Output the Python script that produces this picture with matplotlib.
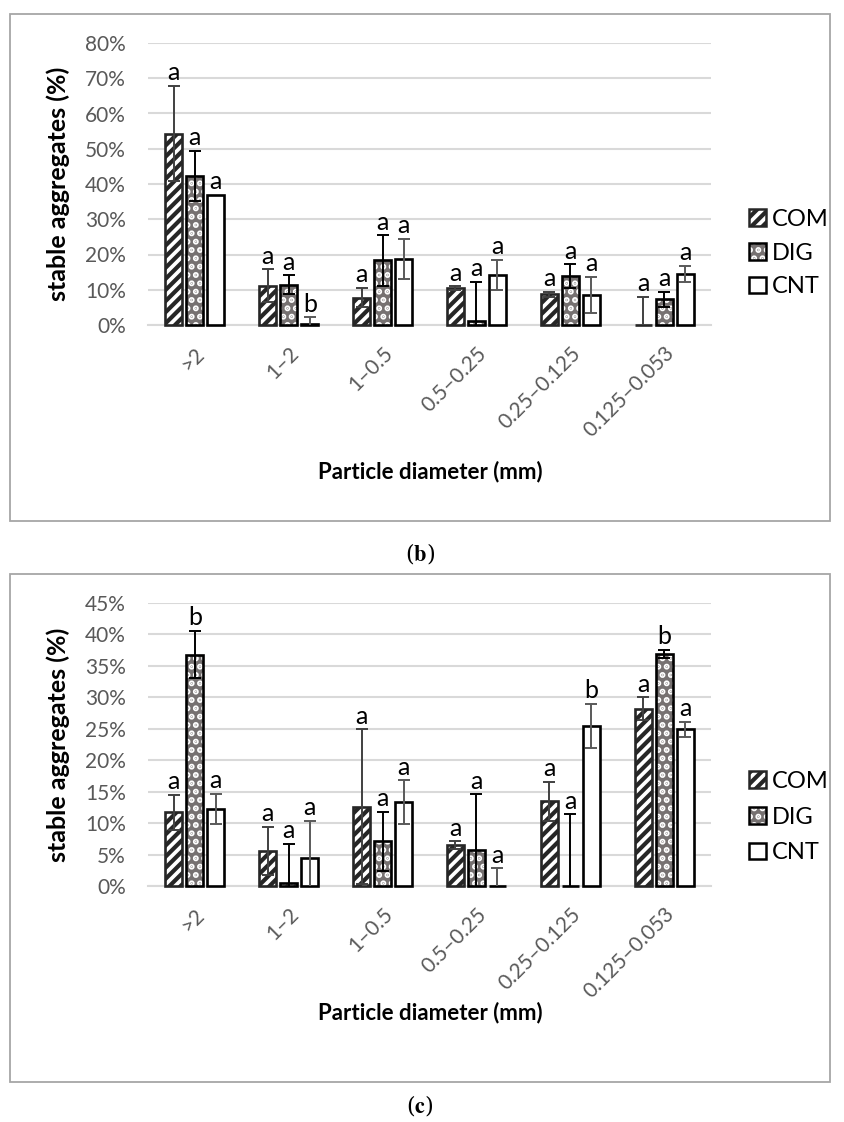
import matplotlib
matplotlib.use("Agg")
import matplotlib.pyplot as plt
from matplotlib.patches import Patch, Rectangle
from matplotlib.legend_handler import HandlerTuple
import numpy as np

plt.rcParams['font.family'] = ['Lato', 'DejaVu Sans']
plt.rcParams['hatch.linewidth'] = 3.0
plt.rcParams['mathtext.fontset'] = 'stix'

categories = [">2", "1\u20132", "1\u20130.5", "0.5\u20130.25", "0.25\u20130.125", "0.125\u20130.053"]
series = ["COM", "DIG", "CNT"]

# Panel (b)
b_COM = [54.3, 11.2, 7.8, 10.4, 8.7, 0.0]
b_DIG = [42.4, 11.4, 18.3, 1.1, 13.9, 7.3]
b_CNT = [37.0, 0.4, 18.7, 14.2, 8.5, 14.5]
b_COM_err = [13.5, 4.6, 2.8, 0.6, 0.8, 8.0]
b_DIG_err = [7.1, 2.7, 7.2, 11.2, 3.3, 2.2]
b_CNT_err = [0.0, 1.8, 5.7, 4.3, 5.2, 2.3]
b_COM_let = ["a", "a", "a", "a", "a", "a"]
b_DIG_let = ["a", "a", "a", "a", "a", "a"]
b_CNT_let = ["a", "b", "a", "a", "a", "a"]

# Panel (c)
c_COM = [11.7, 5.6, 12.6, 6.5, 13.5, 28.2]
c_DIG = [36.8, 0.4, 7.1, 5.7, 0.0, 36.9]
c_CNT = [12.3, 4.5, 13.3, 0.0, 25.5, 24.9]
c_COM_err = [2.8, 3.8, 12.3, 0.6, 3.1, 1.8]
c_DIG_err = [3.8, 6.3, 4.7, 8.9, 11.4, 0.7]
c_CNT_err = [2.4, 5.9, 3.5, 2.8, 3.5, 1.2]
c_COM_let = ["a", "a", "a", "a", "a", "a"]
c_DIG_let = ["b", "a", "a", "a", "a", "b"]
c_CNT_let = ["a", "a", "a", "a", "b", "a"]

W, H = 844, 1122
fig = plt.figure(figsize=(W / 100, H / 100), dpi=100)

GRAY_TXT = "#595959"
GRID = "#d9d9d9"
DIG_FACE = "#767171"
ERR_COL = {"COM": "#404040", "DIG": "#000000", "CNT": "#595959"}
COM_HATCH = "///"
DIG_HATCH = ".."


def px_axes(x0, y_top, x1, y_bot):
    return fig.add_axes([x0 / W, 1 - y_bot / H, (x1 - x0) / W, (y_bot - y_top) / H])


def draw_bars(ax, vals, errs, lets, ymax, ystep):
    x = np.arange(len(categories))
    step, bw = 0.224, 0.18
    for k, name in enumerate(series):
        xs = x + (k - 1) * step
        v = vals[k]
        if name == "COM":
            ax.bar(xs, v, bw, color="white", edgecolor="#262626", hatch=COM_HATCH,
                   linewidth=1.9, zorder=3, clip_on=False)
        elif name == "DIG":
            ax.bar(xs, v, bw, color=DIG_FACE, edgecolor="white", hatch=DIG_HATCH,
                   linewidth=0, zorder=3, clip_on=False)
            ax.bar(xs, v, bw, color="none", edgecolor="black",
                   linewidth=1.9, zorder=3.5, clip_on=False)
        else:
            ax.bar(xs, v, bw, color="white", edgecolor="black",
                   linewidth=1.9, zorder=3, clip_on=False)
        e = np.array(errs[k])
        m = e > 0
        ax.errorbar(xs[m], np.array(v)[m], yerr=e[m], fmt="none",
                    ecolor=ERR_COL[name], elinewidth=1.4, capsize=4.5,
                    capthick=1.4, zorder=4)
        for xi, vi, ei, li in zip(xs, v, e, lets[k]):
            ax.annotate(li, (xi, vi + ei), xytext=(0, 4), textcoords="offset points",
                        ha="center", va="baseline", fontsize=18, color="black", zorder=5)
    ax.set_xlim(-0.5, len(categories) - 0.5)
    ax.set_ylim(0, ymax)
    ticks = np.arange(0, ymax + 0.01, ystep)
    ax.set_yticks(ticks)
    ax.set_yticklabels([f"{t:.0f}%" for t in ticks])
    ax.yaxis.grid(True, color=GRID, linewidth=1.5, zorder=0)
    ax.set_axisbelow(True)
    for s in ["top", "right", "left"]:
        ax.spines[s].set_visible(False)
    ax.spines["bottom"].set_color(GRID)
    ax.spines["bottom"].set_linewidth(1.5)
    ax.tick_params(axis="both", length=0, colors=GRAY_TXT, labelsize=15)
    ax.tick_params(axis="y", pad=16)
    ax.set_xticks(x)
    ax.set_xticklabels(categories, rotation=45, ha="right", va="top",
                       rotation_mode="anchor")
    ax.tick_params(axis="x", pad=13)


def legend_at(y_first, gap):
    h_com = Patch(facecolor="white", edgecolor="#262626", hatch=COM_HATCH, linewidth=1.8)
    h_dig = (Patch(facecolor=DIG_FACE, edgecolor="white", hatch=DIG_HATCH, linewidth=0),
             Patch(facecolor="none", edgecolor="black", linewidth=1.8))
    h_cnt = Patch(facecolor="white", edgecolor="black", linewidth=1.8)
    fs = 17
    leg = fig.legend([h_com, h_dig, h_cnt], series, loc="center left",
                     bbox_to_anchor=(749 / W, 1 - (y_first + gap) / H),
                     frameon=False, fontsize=fs, handlelength=0.7, handleheight=0.7,
                     handletextpad=0.25, labelspacing=gap / 100 * 72 / fs - 0.95,
                     borderpad=0, borderaxespad=0,
                     handler_map={tuple: HandlerTuple(ndivide=1)})
    return leg


# Panel boxes
for (y0, y1) in [(14, 521), (574, 1082)]:
    fig.add_artist(Rectangle((10 / W, 1 - y1 / H), (830 - 10) / W, (y1 - y0) / H,
                             transform=fig.transFigure, fill=False,
                             edgecolor="#a6a6a6", linewidth=1.3))

axb = px_axes(148, 43, 711, 325)
draw_bars(axb, [b_COM, b_DIG, b_CNT], [b_COM_err, b_DIG_err, b_CNT_err],
          [b_COM_let, b_DIG_let, b_CNT_let], 80, 10)
axc = px_axes(148, 603, 711, 886)
draw_bars(axc, [c_COM, c_DIG, c_CNT], [c_COM_err, c_DIG_err, c_CNT_err],
          [c_COM_let, c_DIG_let, c_CNT_let], 45, 5)

for yc in [184, 744.5]:
    fig.text(58 / W, 1 - yc / H, "stable aggregates (%)", rotation=90, ha="center",
             va="center", fontsize=18, fontweight="bold", color="black")
for yc in [472, 1013]:
    fig.text(430 / W, 1 - yc / H, "Particle diameter (mm)", ha="center",
             va="center", fontsize=16, fontweight="bold", color="black")

legend_at(218, 35)
legend_at(780, 37)

fig.text(420 / W, 1 - 553 / H, r"($\mathbf{b}$)", ha="center", va="center",
         fontsize=16, family="DejaVu Serif")
fig.text(420 / W, 1 - 1106 / H, r"($\mathbf{c}$)", ha="center", va="center",
         fontsize=16, family="DejaVu Serif")

fig.savefig("out.png", dpi=100)
